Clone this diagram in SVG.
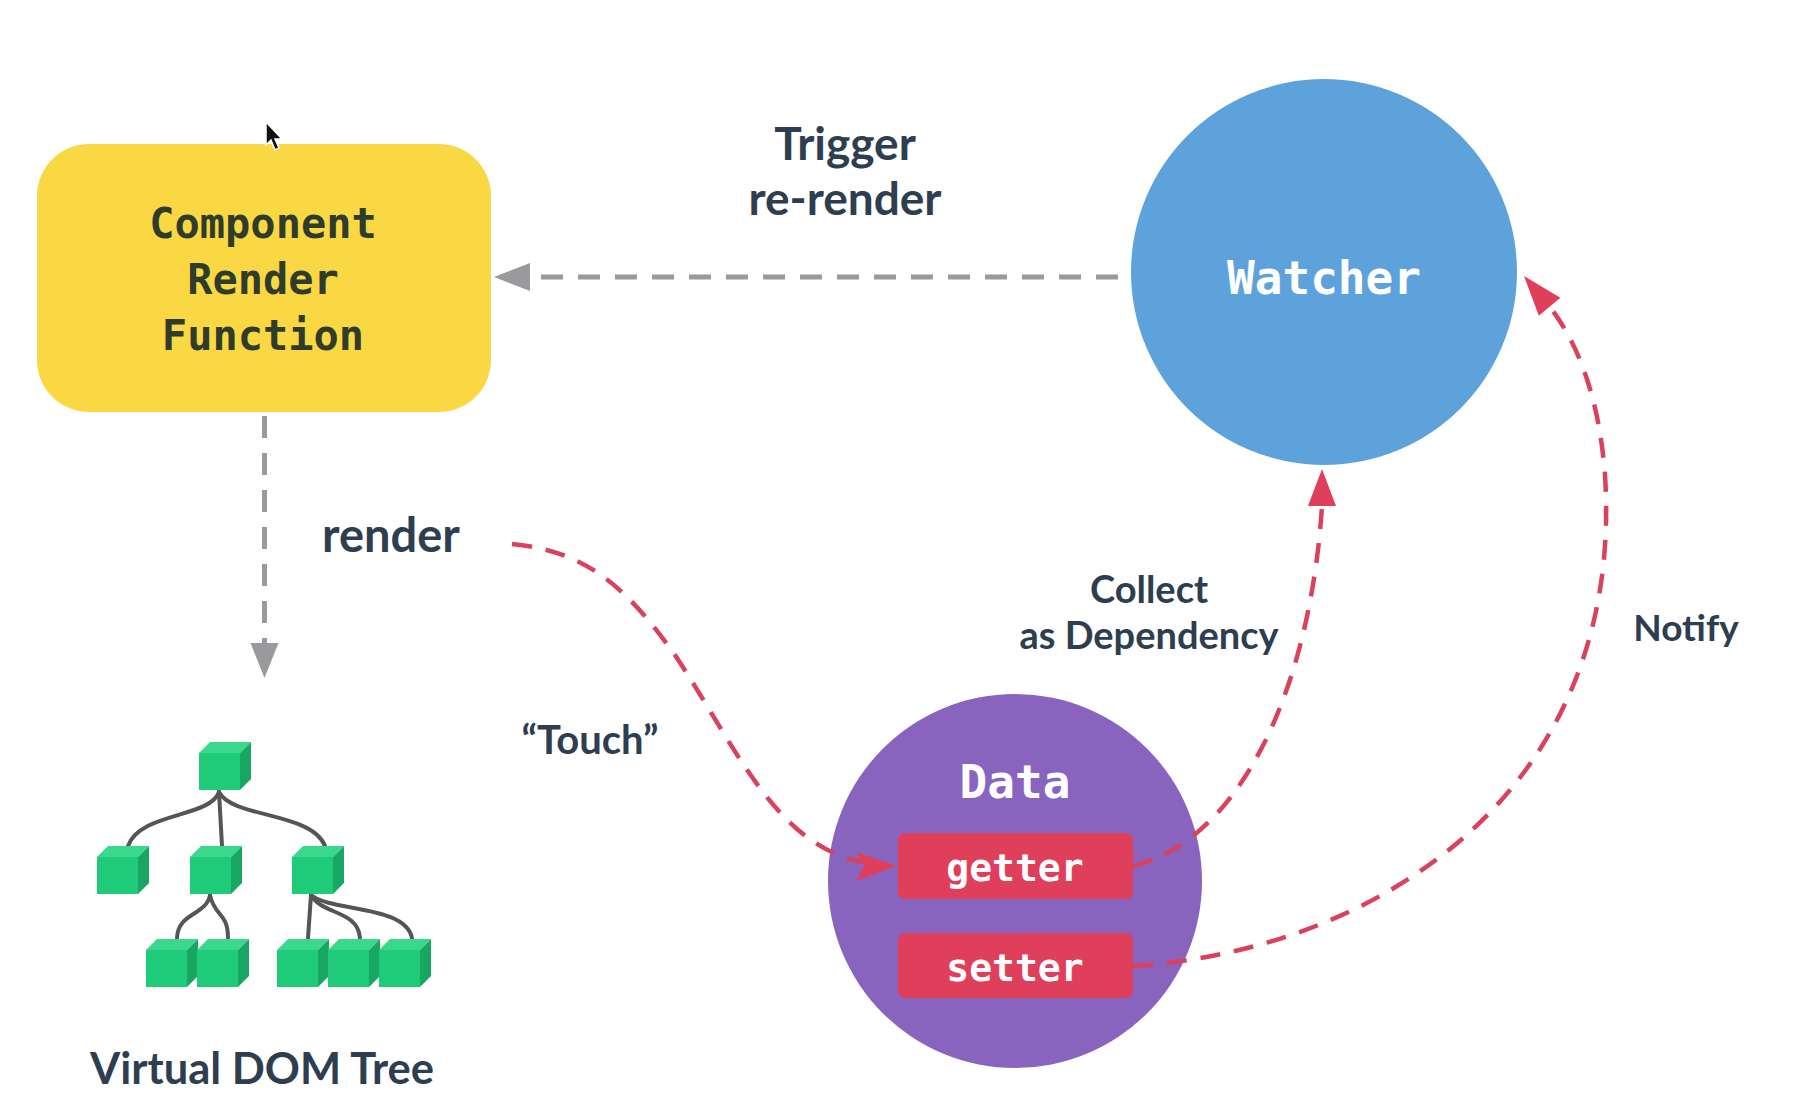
<svg xmlns="http://www.w3.org/2000/svg" width="1802" height="1114" viewBox="0 0 1802 1114">
<style>
.lbl{font-family:Lato,"Liberation Sans",sans-serif;font-weight:700;fill:#2d3e50;text-anchor:middle}
.mono{font-family:"DejaVu Sans Mono","Liberation Mono",monospace;font-weight:700;text-anchor:middle}
.grey{fill:none;stroke:#9a9a9c;stroke-width:5;stroke-dasharray:22 15}
.red{fill:none;stroke:#d9415c;stroke-width:4.5;stroke-dasharray:20 14}
.ahg{fill:#9a9a9c}
.ahr{fill:#e03f5b}
.front{fill:#1fcb78}
.top{fill:#3ad88c}
.side{fill:#17a763}
.edge{fill:none;stroke:#555;stroke-width:4;stroke-linecap:round}
</style>
<defs>
<g id="cube">
<path class="top" d="M0,0 L11,-11 L52,-11 L41,0 Z"/>
<path class="side" d="M41,0 L52,-11 L52,26 L41,37 Z"/>
<rect class="front" x="0" y="0" width="41" height="37"/>
</g>
</defs>
<rect width="1802" height="1114" fill="#ffffff"/>

<g id="component">
<rect x="37" y="144" width="454" height="268" rx="52" fill="#f9d843"/>
<text class="mono" x="263" y="238" font-size="42" fill="#2f3c2c">Component</text>
<text class="mono" x="263" y="294" font-size="42" fill="#2f3c2c">Render</text>
<text class="mono" x="263" y="350" font-size="42" fill="#2f3c2c">Function</text>
</g>

<g id="watcher">
<circle cx="1324" cy="272" r="193" fill="#5ea2db"/>
<text class="mono" x="1324" y="294" font-size="46" fill="#ffffff">Watcher</text>
</g>

<g id="data">
<circle cx="1015" cy="881" r="187" fill="#8864bf"/>
<text class="mono" x="1015" y="798" font-size="46" fill="#ffffff">Data</text>
<rect x="898" y="833" width="235" height="66" rx="7" fill="#e03f5b"/>
<text class="mono" x="1015" y="881" font-size="38" fill="#ffffff">getter</text>
<rect x="898" y="933" width="235" height="65" rx="7" fill="#e03f5b"/>
<text class="mono" x="1015" y="981" font-size="38" fill="#ffffff">setter</text>
</g>

<g id="connectors">
<path class="grey" d="M1118,277 L528,277"/>
<path class="ahg" d="M494,277 L530,263 L530,291 Z"/>
<path class="grey" d="M264.5,416 L264.5,644"/>
<path class="ahg" d="M264.5,678 L250.5,643 L278.5,643 Z"/>
<path class="red" d="M512,544 C585,551 625,585 675,655 C735,745 775,845 862,862"/>
<path class="ahr" d="M897,866 L856,852 L864,866 L856,881 Z"/>
<path class="red" d="M1133,866 C1240,840 1310,690 1322,506"/>
<path class="ahr" d="M1322,469 L1308,506 L1336,506 Z"/>
<path class="red" d="M1133,966 C1380,950 1625,790 1605,475 C1598,385 1572,336 1550,307"/>
<path class="ahr" d="M1524,276 L1560.4,297.8 L1538.8,315.8 Z"/>
</g>

<g id="labels">
<text class="lbl" x="845" y="160" font-size="46">Trigger</text>
<text class="lbl" x="845" y="215" font-size="46">re-render</text>
<text class="lbl" x="391" y="552" font-size="47">render</text>
<text class="lbl" x="590" y="754" font-size="40">“Touch”</text>
<text class="lbl" x="1149" y="603" font-size="38">Collect</text>
<text class="lbl" x="1149" y="649" font-size="38">as Dependency</text>
<text class="lbl" x="1686" y="641" font-size="37">Notify</text>
</g>

<g id="vdom">
<g class="edge">
<path d="M219,792 C210,818 140,812 128,846"/>
<path d="M219,792 L222,846"/>
<path d="M219,792 C232,818 312,812 325,846"/>
<path d="M210,895 C206,916 178,912 177,938"/>
<path d="M210,895 C214,916 228,912 228,938"/>
<path d="M311,895 L308,938"/>
<path d="M311,895 C322,915 358,910 360,938"/>
<path d="M311,895 C332,912 405,905 412,938"/>
</g>
<use href="#cube" x="199" y="753"/>
<use href="#cube" x="97" y="857"/>
<use href="#cube" x="190" y="857"/>
<use href="#cube" x="292" y="857"/>
<use href="#cube" x="146" y="950"/>
<use href="#cube" x="197" y="950"/>
<use href="#cube" x="277" y="950"/>
<use href="#cube" x="328" y="950"/>
<use href="#cube" x="379" y="950"/>
<text class="lbl" x="262" y="1084" font-size="43.5">Virtual DOM Tree</text>
</g>

<g id="cursor">
<path d="M266,122 L266,145 L271,140 L275,150 L279,148 L275,139 L282,139 Z" fill="#111" stroke="#fff" stroke-width="1.5"/>
</g>
</svg>
